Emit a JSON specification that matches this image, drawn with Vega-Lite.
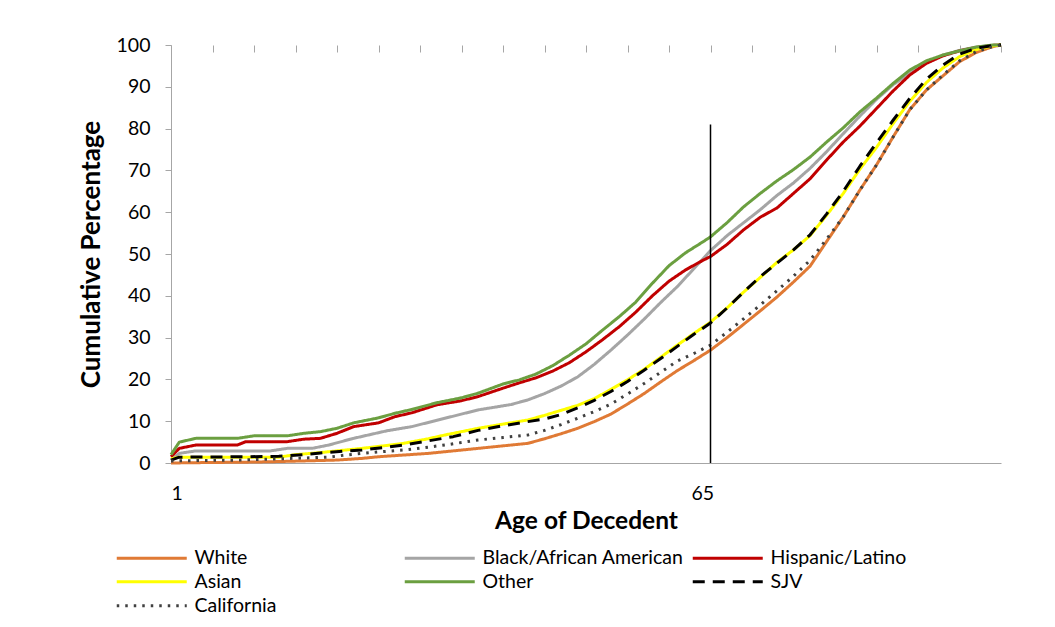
{
  "$schema": "https://vega.github.io/schema/vega-lite/v6.json",
  "width": 830,
  "height": 418,
  "autosize": {"type": "none"},
  "padding": {"left": 171, "top": 45, "right": 54, "bottom": 164},
  "background": "white",
  "config": {
    "view": {"stroke": null},
    "axis": {"grid": false, "labelFont": "Lato", "titleFont": "Lato", "labelColor": "#000000", "titleColor": "#000000"}
  },
  "datasets": {
    "curves": [
      {"g": "White", "age": 1, "pct": 0}, {"g": "White", "age": 5, "pct": 0.1}, {"g": "White", "age": 10, "pct": 0.2}, {"g": "White", "age": 13, "pct": 0.3}, {"g": "White", "age": 17, "pct": 0.5}, {"g": "White", "age": 21, "pct": 0.7}, {"g": "White", "age": 24, "pct": 1.1}, {"g": "White", "age": 26, "pct": 1.5}, {"g": "White", "age": 29, "pct": 1.9}, {"g": "White", "age": 32, "pct": 2.3}, {"g": "White", "age": 35, "pct": 2.9}, {"g": "White", "age": 38, "pct": 3.5}, {"g": "White", "age": 41, "pct": 4.1}, {"g": "White", "age": 44, "pct": 4.7}, {"g": "White", "age": 46, "pct": 5.8}, {"g": "White", "age": 48, "pct": 7.0}, {"g": "White", "age": 50, "pct": 8.3}, {"g": "White", "age": 52, "pct": 9.9}, {"g": "White", "age": 54, "pct": 11.7}, {"g": "White", "age": 56, "pct": 14.1}, {"g": "White", "age": 58, "pct": 16.6}, {"g": "White", "age": 60, "pct": 19.4}, {"g": "White", "age": 62, "pct": 22.1}, {"g": "White", "age": 64, "pct": 24.5}, {"g": "White", "age": 66, "pct": 27.0}, {"g": "White", "age": 68, "pct": 30.0}, {"g": "White", "age": 70, "pct": 33.2}, {"g": "White", "age": 72, "pct": 36.4}, {"g": "White", "age": 74, "pct": 39.7}, {"g": "White", "age": 76, "pct": 43.3}, {"g": "White", "age": 78, "pct": 47.1}, {"g": "White", "age": 80, "pct": 53.0}, {"g": "White", "age": 82, "pct": 58.9}, {"g": "White", "age": 84, "pct": 65.3}, {"g": "White", "age": 86, "pct": 71.3}, {"g": "White", "age": 88, "pct": 78.0}, {"g": "White", "age": 90, "pct": 84.5}, {"g": "White", "age": 92, "pct": 89.2}, {"g": "White", "age": 94, "pct": 92.6}, {"g": "White", "age": 96, "pct": 96.0}, {"g": "White", "age": 98, "pct": 98.2}, {"g": "White", "age": 100, "pct": 99.6}, {"g": "White", "age": 101, "pct": 100},

      {"g": "Black/African American", "age": 1, "pct": 0.7}, {"g": "Black/African American", "age": 2, "pct": 2.3}, {"g": "Black/African American", "age": 4, "pct": 2.9}, {"g": "Black/African American", "age": 13, "pct": 2.9}, {"g": "Black/African American", "age": 15, "pct": 3.5}, {"g": "Black/African American", "age": 18, "pct": 3.5}, {"g": "Black/African American", "age": 20, "pct": 4.3}, {"g": "Black/African American", "age": 23, "pct": 5.9}, {"g": "Black/African American", "age": 27, "pct": 7.7}, {"g": "Black/African American", "age": 30, "pct": 8.7}, {"g": "Black/African American", "age": 34, "pct": 10.7}, {"g": "Black/African American", "age": 38, "pct": 12.7}, {"g": "Black/African American", "age": 42, "pct": 14.0}, {"g": "Black/African American", "age": 44, "pct": 15.1}, {"g": "Black/African American", "age": 46, "pct": 16.6}, {"g": "Black/African American", "age": 48, "pct": 18.4}, {"g": "Black/African American", "age": 50, "pct": 20.6}, {"g": "Black/African American", "age": 52, "pct": 23.6}, {"g": "Black/African American", "age": 54, "pct": 27.0}, {"g": "Black/African American", "age": 56, "pct": 30.6}, {"g": "Black/African American", "age": 58, "pct": 34.4}, {"g": "Black/African American", "age": 60, "pct": 38.4}, {"g": "Black/African American", "age": 62, "pct": 42.2}, {"g": "Black/African American", "age": 64, "pct": 46.5}, {"g": "Black/African American", "age": 66, "pct": 50.8}, {"g": "Black/African American", "age": 68, "pct": 54.4}, {"g": "Black/African American", "age": 70, "pct": 57.5}, {"g": "Black/African American", "age": 72, "pct": 60.6}, {"g": "Black/African American", "age": 74, "pct": 64.0}, {"g": "Black/African American", "age": 76, "pct": 67.0}, {"g": "Black/African American", "age": 78, "pct": 70.5}, {"g": "Black/African American", "age": 80, "pct": 74.5}, {"g": "Black/African American", "age": 82, "pct": 78.8}, {"g": "Black/African American", "age": 84, "pct": 83.0}, {"g": "Black/African American", "age": 86, "pct": 87.0}, {"g": "Black/African American", "age": 88, "pct": 90.5}, {"g": "Black/African American", "age": 90, "pct": 93.2}, {"g": "Black/African American", "age": 92, "pct": 95.7}, {"g": "Black/African American", "age": 94, "pct": 97.6}, {"g": "Black/African American", "age": 96, "pct": 98.7}, {"g": "Black/African American", "age": 98, "pct": 99.5}, {"g": "Black/African American", "age": 100, "pct": 99.9}, {"g": "Black/African American", "age": 101, "pct": 100},

      {"g": "Hispanic/Latino", "age": 1, "pct": 1.5}, {"g": "Hispanic/Latino", "age": 2, "pct": 3.5}, {"g": "Hispanic/Latino", "age": 4, "pct": 4.3}, {"g": "Hispanic/Latino", "age": 9, "pct": 4.3}, {"g": "Hispanic/Latino", "age": 10, "pct": 5.1}, {"g": "Hispanic/Latino", "age": 15, "pct": 5.1}, {"g": "Hispanic/Latino", "age": 17, "pct": 5.7}, {"g": "Hispanic/Latino", "age": 19, "pct": 5.9}, {"g": "Hispanic/Latino", "age": 21, "pct": 7.1}, {"g": "Hispanic/Latino", "age": 23, "pct": 8.7}, {"g": "Hispanic/Latino", "age": 26, "pct": 9.6}, {"g": "Hispanic/Latino", "age": 28, "pct": 11.1}, {"g": "Hispanic/Latino", "age": 30, "pct": 12.0}, {"g": "Hispanic/Latino", "age": 33, "pct": 13.9}, {"g": "Hispanic/Latino", "age": 36, "pct": 14.9}, {"g": "Hispanic/Latino", "age": 38, "pct": 15.9}, {"g": "Hispanic/Latino", "age": 41, "pct": 17.9}, {"g": "Hispanic/Latino", "age": 43, "pct": 19.2}, {"g": "Hispanic/Latino", "age": 45, "pct": 20.4}, {"g": "Hispanic/Latino", "age": 47, "pct": 22.0}, {"g": "Hispanic/Latino", "age": 49, "pct": 24.0}, {"g": "Hispanic/Latino", "age": 51, "pct": 26.6}, {"g": "Hispanic/Latino", "age": 53, "pct": 29.5}, {"g": "Hispanic/Latino", "age": 55, "pct": 32.6}, {"g": "Hispanic/Latino", "age": 57, "pct": 36.1}, {"g": "Hispanic/Latino", "age": 59, "pct": 40.0}, {"g": "Hispanic/Latino", "age": 61, "pct": 43.5}, {"g": "Hispanic/Latino", "age": 63, "pct": 46.2}, {"g": "Hispanic/Latino", "age": 65, "pct": 48.4}, {"g": "Hispanic/Latino", "age": 66, "pct": 49.4}, {"g": "Hispanic/Latino", "age": 68, "pct": 52.3}, {"g": "Hispanic/Latino", "age": 70, "pct": 55.8}, {"g": "Hispanic/Latino", "age": 72, "pct": 58.8}, {"g": "Hispanic/Latino", "age": 74, "pct": 61.0}, {"g": "Hispanic/Latino", "age": 76, "pct": 64.5}, {"g": "Hispanic/Latino", "age": 78, "pct": 68.0}, {"g": "Hispanic/Latino", "age": 80, "pct": 72.5}, {"g": "Hispanic/Latino", "age": 82, "pct": 76.8}, {"g": "Hispanic/Latino", "age": 84, "pct": 80.6}, {"g": "Hispanic/Latino", "age": 86, "pct": 84.8}, {"g": "Hispanic/Latino", "age": 88, "pct": 89.0}, {"g": "Hispanic/Latino", "age": 90, "pct": 92.8}, {"g": "Hispanic/Latino", "age": 92, "pct": 95.6}, {"g": "Hispanic/Latino", "age": 94, "pct": 97.4}, {"g": "Hispanic/Latino", "age": 96, "pct": 98.6}, {"g": "Hispanic/Latino", "age": 98, "pct": 99.4}, {"g": "Hispanic/Latino", "age": 100, "pct": 99.9}, {"g": "Hispanic/Latino", "age": 101, "pct": 100},

      {"g": "Asian", "age": 1, "pct": 1.0}, {"g": "Asian", "age": 2, "pct": 1.4}, {"g": "Asian", "age": 14, "pct": 1.4}, {"g": "Asian", "age": 16, "pct": 2.0}, {"g": "Asian", "age": 19, "pct": 2.5}, {"g": "Asian", "age": 22, "pct": 3.1}, {"g": "Asian", "age": 24, "pct": 3.5}, {"g": "Asian", "age": 27, "pct": 4.2}, {"g": "Asian", "age": 29, "pct": 4.7}, {"g": "Asian", "age": 32, "pct": 5.8}, {"g": "Asian", "age": 34, "pct": 6.7}, {"g": "Asian", "age": 36, "pct": 7.5}, {"g": "Asian", "age": 38, "pct": 8.3}, {"g": "Asian", "age": 41, "pct": 9.3}, {"g": "Asian", "age": 44, "pct": 10.3}, {"g": "Asian", "age": 46, "pct": 11.4}, {"g": "Asian", "age": 48, "pct": 12.6}, {"g": "Asian", "age": 50, "pct": 13.8}, {"g": "Asian", "age": 52, "pct": 15.4}, {"g": "Asian", "age": 54, "pct": 17.6}, {"g": "Asian", "age": 56, "pct": 19.9}, {"g": "Asian", "age": 58, "pct": 22.4}, {"g": "Asian", "age": 60, "pct": 25.3}, {"g": "Asian", "age": 62, "pct": 28.2}, {"g": "Asian", "age": 64, "pct": 31.0}, {"g": "Asian", "age": 66, "pct": 33.7}, {"g": "Asian", "age": 68, "pct": 37.1}, {"g": "Asian", "age": 70, "pct": 40.9}, {"g": "Asian", "age": 72, "pct": 44.4}, {"g": "Asian", "age": 74, "pct": 48.0}, {"g": "Asian", "age": 76, "pct": 51.0}, {"g": "Asian", "age": 78, "pct": 54.4}, {"g": "Asian", "age": 80, "pct": 59.3}, {"g": "Asian", "age": 82, "pct": 64.5}, {"g": "Asian", "age": 84, "pct": 70.3}, {"g": "Asian", "age": 86, "pct": 75.5}, {"g": "Asian", "age": 88, "pct": 81.2}, {"g": "Asian", "age": 90, "pct": 86.5}, {"g": "Asian", "age": 92, "pct": 91.0}, {"g": "Asian", "age": 94, "pct": 94.5}, {"g": "Asian", "age": 96, "pct": 97.2}, {"g": "Asian", "age": 98, "pct": 98.9}, {"g": "Asian", "age": 100, "pct": 99.8}, {"g": "Asian", "age": 101, "pct": 100},

      {"g": "Other", "age": 1, "pct": 2.0}, {"g": "Other", "age": 2, "pct": 5.0}, {"g": "Other", "age": 4, "pct": 5.9}, {"g": "Other", "age": 9, "pct": 5.9}, {"g": "Other", "age": 11, "pct": 6.5}, {"g": "Other", "age": 15, "pct": 6.5}, {"g": "Other", "age": 17, "pct": 7.1}, {"g": "Other", "age": 19, "pct": 7.5}, {"g": "Other", "age": 21, "pct": 8.3}, {"g": "Other", "age": 23, "pct": 9.6}, {"g": "Other", "age": 26, "pct": 10.8}, {"g": "Other", "age": 28, "pct": 11.9}, {"g": "Other", "age": 30, "pct": 12.8}, {"g": "Other", "age": 33, "pct": 14.4}, {"g": "Other", "age": 36, "pct": 15.6}, {"g": "Other", "age": 38, "pct": 16.7}, {"g": "Other", "age": 41, "pct": 18.9}, {"g": "Other", "age": 43, "pct": 19.9}, {"g": "Other", "age": 45, "pct": 21.3}, {"g": "Other", "age": 47, "pct": 23.3}, {"g": "Other", "age": 49, "pct": 25.8}, {"g": "Other", "age": 51, "pct": 28.5}, {"g": "Other", "age": 53, "pct": 31.8}, {"g": "Other", "age": 55, "pct": 35.0}, {"g": "Other", "age": 57, "pct": 38.5}, {"g": "Other", "age": 59, "pct": 43.0}, {"g": "Other", "age": 61, "pct": 47.2}, {"g": "Other", "age": 63, "pct": 50.3}, {"g": "Other", "age": 65, "pct": 52.8}, {"g": "Other", "age": 66, "pct": 54.1}, {"g": "Other", "age": 68, "pct": 57.5}, {"g": "Other", "age": 70, "pct": 61.3}, {"g": "Other", "age": 72, "pct": 64.5}, {"g": "Other", "age": 74, "pct": 67.5}, {"g": "Other", "age": 76, "pct": 70.2}, {"g": "Other", "age": 78, "pct": 73.2}, {"g": "Other", "age": 80, "pct": 76.8}, {"g": "Other", "age": 82, "pct": 80.2}, {"g": "Other", "age": 84, "pct": 84.0}, {"g": "Other", "age": 86, "pct": 87.3}, {"g": "Other", "age": 88, "pct": 90.8}, {"g": "Other", "age": 90, "pct": 94.0}, {"g": "Other", "age": 92, "pct": 96.2}, {"g": "Other", "age": 94, "pct": 97.6}, {"g": "Other", "age": 96, "pct": 98.6}, {"g": "Other", "age": 98, "pct": 99.5}, {"g": "Other", "age": 100, "pct": 100}, {"g": "Other", "age": 101, "pct": 100},

      {"g": "SJV", "age": 1, "pct": 0.7}, {"g": "SJV", "age": 2, "pct": 1.4}, {"g": "SJV", "age": 10, "pct": 1.5}, {"g": "SJV", "age": 14, "pct": 1.6}, {"g": "SJV", "age": 17, "pct": 2.0}, {"g": "SJV", "age": 19, "pct": 2.4}, {"g": "SJV", "age": 22, "pct": 2.9}, {"g": "SJV", "age": 24, "pct": 3.1}, {"g": "SJV", "age": 27, "pct": 3.8}, {"g": "SJV", "age": 29, "pct": 4.3}, {"g": "SJV", "age": 32, "pct": 5.3}, {"g": "SJV", "age": 35, "pct": 6.3}, {"g": "SJV", "age": 38, "pct": 7.8}, {"g": "SJV", "age": 41, "pct": 8.9}, {"g": "SJV", "age": 44, "pct": 9.9}, {"g": "SJV", "age": 46, "pct": 10.5}, {"g": "SJV", "age": 48, "pct": 11.6}, {"g": "SJV", "age": 50, "pct": 13.2}, {"g": "SJV", "age": 52, "pct": 15.0}, {"g": "SJV", "age": 54, "pct": 17.1}, {"g": "SJV", "age": 56, "pct": 19.5}, {"g": "SJV", "age": 58, "pct": 22.2}, {"g": "SJV", "age": 60, "pct": 25.0}, {"g": "SJV", "age": 62, "pct": 27.9}, {"g": "SJV", "age": 64, "pct": 30.8}, {"g": "SJV", "age": 66, "pct": 33.5}, {"g": "SJV", "age": 68, "pct": 37.1}, {"g": "SJV", "age": 70, "pct": 40.9}, {"g": "SJV", "age": 72, "pct": 44.6}, {"g": "SJV", "age": 74, "pct": 47.8}, {"g": "SJV", "age": 76, "pct": 51.0}, {"g": "SJV", "age": 78, "pct": 54.6}, {"g": "SJV", "age": 80, "pct": 59.6}, {"g": "SJV", "age": 82, "pct": 65.0}, {"g": "SJV", "age": 84, "pct": 71.0}, {"g": "SJV", "age": 86, "pct": 76.6}, {"g": "SJV", "age": 88, "pct": 82.0}, {"g": "SJV", "age": 90, "pct": 87.2}, {"g": "SJV", "age": 92, "pct": 91.8}, {"g": "SJV", "age": 94, "pct": 95.2}, {"g": "SJV", "age": 96, "pct": 97.8}, {"g": "SJV", "age": 98, "pct": 99.2}, {"g": "SJV", "age": 100, "pct": 99.9}, {"g": "SJV", "age": 101, "pct": 100},

      {"g": "California", "age": 1, "pct": 0.5}, {"g": "California", "age": 5, "pct": 0.6}, {"g": "California", "age": 9, "pct": 0.7}, {"g": "California", "age": 14, "pct": 1.0}, {"g": "California", "age": 20, "pct": 1.4}, {"g": "California", "age": 22, "pct": 1.9}, {"g": "California", "age": 24, "pct": 2.3}, {"g": "California", "age": 27, "pct": 2.8}, {"g": "California", "age": 29, "pct": 3.1}, {"g": "California", "age": 32, "pct": 3.8}, {"g": "California", "age": 34, "pct": 4.3}, {"g": "California", "age": 36, "pct": 4.9}, {"g": "California", "age": 38, "pct": 5.5}, {"g": "California", "age": 41, "pct": 6.1}, {"g": "California", "age": 44, "pct": 6.7}, {"g": "California", "age": 46, "pct": 7.8}, {"g": "California", "age": 48, "pct": 9.2}, {"g": "California", "age": 50, "pct": 10.7}, {"g": "California", "age": 52, "pct": 12.3}, {"g": "California", "age": 54, "pct": 14.1}, {"g": "California", "age": 56, "pct": 16.5}, {"g": "California", "age": 58, "pct": 19.0}, {"g": "California", "age": 60, "pct": 21.7}, {"g": "California", "age": 62, "pct": 24.4}, {"g": "California", "age": 64, "pct": 26.2}, {"g": "California", "age": 66, "pct": 28.2}, {"g": "California", "age": 68, "pct": 31.3}, {"g": "California", "age": 70, "pct": 34.5}, {"g": "California", "age": 72, "pct": 37.8}, {"g": "California", "age": 74, "pct": 41.2}, {"g": "California", "age": 76, "pct": 44.7}, {"g": "California", "age": 78, "pct": 48.5}, {"g": "California", "age": 80, "pct": 53.6}, {"g": "California", "age": 82, "pct": 58.9}, {"g": "California", "age": 84, "pct": 65.3}, {"g": "California", "age": 86, "pct": 71.3}, {"g": "California", "age": 88, "pct": 78.0}, {"g": "California", "age": 90, "pct": 84.5}, {"g": "California", "age": 92, "pct": 89.2}, {"g": "California", "age": 94, "pct": 92.8}, {"g": "California", "age": 96, "pct": 96.2}, {"g": "California", "age": 98, "pct": 98.4}, {"g": "California", "age": 100, "pct": 99.6}, {"g": "California", "age": 101, "pct": 100}
    ],
    "marker": [{"age": 66, "low": 0, "high": 81}]
  },
  "layer": [
    {
      "data": {"name": "curves"},
      "mark": {"type": "line", "strokeCap": "butt", "strokeJoin": "round"},
      "encoding": {
        "x": {
          "field": "age", "type": "quantitative",
          "scale": {"domain": [1, 101], "nice": false, "zero": false},
          "axis": {"values": [1, 65], "ticks": false, "domain": true, "domainColor": "#A6A6A6", "labelPadding": 21, "labelFontSize": 19.5, "title": "Age of Decedent", "titleFontSize": 24.5, "titleFontWeight": "bold", "titlePadding": 7}
        },
        "y": {
          "field": "pct", "type": "quantitative",
          "scale": {"domain": [0, 100], "nice": false},
          "axis": {"values": [0, 10, 20, 30, 40, 50, 60, 70, 80, 90, 100], "tickSize": 6, "tickColor": "#A6A6A6", "domainColor": "#A6A6A6", "labelPadding": 15, "labelFontSize": 19.5, "title": "Cumulative Percentage", "titleFontSize": 26, "titleFontWeight": "bold", "titlePadding": 12}
        },
        "color": {
          "field": "g", "type": "nominal",
          "scale": {
            "domain": ["White", "Black/African American", "Hispanic/Latino", "Asian", "Other", "SJV", "California"],
            "range": ["#E07A35", "#A5A5A5", "#C00000", "#FFFF00", "#6B9F40", "#000000", "#404040"]
          },
          "legend": {
            "orient": "none", "legendX": -29, "legendY": 503, "direction": "horizontal", "columns": 3, "gridAlign": "all",
            "columnPadding": 2, "rowPadding": 3, "symbolType": "M-7,0H7", "symbolSize": 100,
            "symbolStrokeWidth": 3.5, "labelFont": "Lato", "labelFontSize": 19.5, "labelOffset": 33, "labelLimit": 400,
            "labelColor": "#000000", "title": null
          }
        },
        "strokeDash": {
          "field": "g", "type": "nominal",
          "scale": {
            "domain": ["White", "Black/African American", "Hispanic/Latino", "Asian", "Other", "SJV", "California"],
            "range": [[1, 0], [1, 0], [1, 0], [1, 0], [1, 0], [12, 8], [2.5, 6]]
          },
          "legend": {
            "orient": "none", "legendX": -29, "legendY": 503, "direction": "horizontal", "columns": 3, "gridAlign": "all",
            "columnPadding": 2, "rowPadding": 3, "symbolType": "M-7,0H7", "symbolSize": 100,
            "symbolStrokeWidth": 3.5, "labelFont": "Lato", "labelFontSize": 19.5, "labelOffset": 33, "labelLimit": 400,
            "labelColor": "#000000", "title": null
          }
        },
        "strokeWidth": {
          "field": "g", "type": "nominal",
          "scale": {
            "domain": ["White", "Black/African American", "Hispanic/Latino", "Asian", "Other", "SJV", "California"],
            "range": [3, 3, 3, 3, 3, 4, 3]
          },
          "legend": null
        }
      }
    },
    {
      "data": {"name": "marker"},
      "mark": {"type": "rule", "color": "#000000", "strokeWidth": 1.5},
      "encoding": {
        "x": {
          "field": "age", "type": "quantitative",
          "axis": {"values": [1, 6, 11, 16, 21, 26, 31, 36, 41, 46, 51, 56, 61, 66, 71, 76, 81, 86, 91, 96, 101], "labels": false, "domain": false, "offset": -7, "tickSize": 7, "tickColor": "#A6A6A6", "title": null}
        },
        "y": {"field": "low", "type": "quantitative"},
        "y2": {"field": "high"}
      }
    }
  ],
  "resolve": {"axis": {"x": "independent"}}
}
